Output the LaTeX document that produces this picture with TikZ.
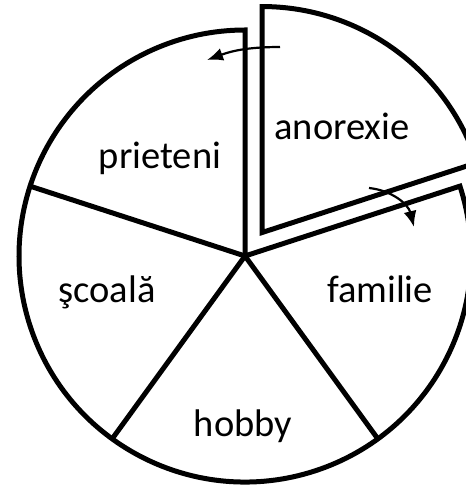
\documentclass[tikz,border=0pt]{standalone}
\usepackage{fontspec}
\setmainfont{Carlito}
\usetikzlibrary{arrows.meta}

\tikzset{
  slice/.style={line width=5pt, line join=miter},
  label/.style={anchor=base, font=\fontsize{38.5}{40}\selectfont},
  move/.style={line width=2.2pt, -{Latex[length=16pt,width=13pt]}}
}

\begin{document}
\begin{tikzpicture}[x=1pt, y=1pt]
    \useasboundingbox (0,0) rectangle (466,485);
    \clip (0,0) rectangle (466,485);

    % Remaining pie - four slices of 72 degrees
    \coordinate (centre) at (245,229);
    \draw[slice] (centre) -- ++(18:226) arc (18:-270:226) -- cycle;
    \foreach \a in {162,234,306}
        \draw[slice] (centre) -- ++(\a:226);

    % Exploded slice
    \begin{scope}[shift={(54:29)}]
        \coordinate (tip) at (245,229);
        \draw[slice] (tip) -- ++(18:226) arc (18:90:226) -- cycle;
    \end{scope}

    % Labels
    \node[label] (anorexie) at (342,345) {anorexie};
    \node[label] (prieteni) at (160,316) {prieteni};
    \node[label] (scoala)   at (107,182) {şcoală};
    \node[label] (familie)  at (380,182) {familie};
    \node[label] (hobby)    at (243,48)  {hobby};

    % Arrows
    \coordinate (a1) at (280,438);
    \coordinate (b1) at (207,425);
    \coordinate (a2) at (369,297);
    \coordinate (b2) at (414,258);
    \draw[move] (a1) to[bend right=10] (b1);
    \draw[move] (a2) to[bend left=35] (b2);
\end{tikzpicture}
\end{document}
